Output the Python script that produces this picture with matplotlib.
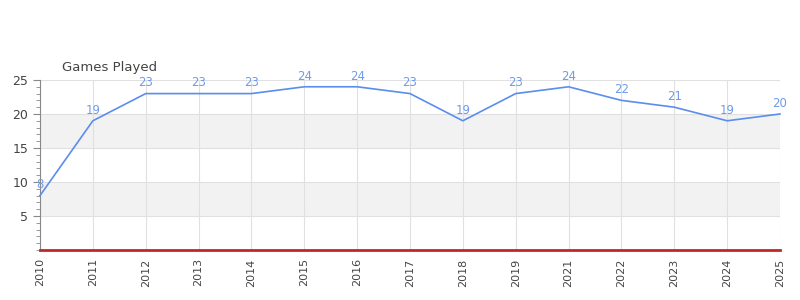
import matplotlib
matplotlib.use("Agg")
import matplotlib.pyplot as plt
from matplotlib.ticker import MultipleLocator

years = ["2010", "2011", "2012", "2013", "2014", "2015", "2016", "2017", "2018",
         "2019", "2021", "2022", "2023", "2024", "2025"]
games = [8, 19, 23, 23, 23, 24, 24, 23, 19, 23, 24, 22, 21, 19, 20]
title = "Games Played"

fig = plt.figure(figsize=(8, 3), dpi=100)
ax = fig.add_axes([0.05, 0.1667, 0.925, 0.5667])
x = list(range(len(years)))

# alternating bands
for lo in (5, 15):
    ax.axhspan(lo, lo + 5, color="#f2f2f2", zorder=0, lw=0)
for yv in (5, 10, 15, 20, 25):
    ax.axhline(yv, color="#e0e0e0", lw=0.8, zorder=1)
for xi in x:
    ax.axvline(xi, color="#e0e0e0", lw=0.8, zorder=1)

ax.plot(x, games, color="#5b8def", lw=1.2, zorder=3, clip_on=False)
for xi, v in zip(x, games):
    ax.annotate(str(v), (xi, v), xytext=(0, 3), textcoords="offset points",
                ha="center", va="bottom", fontsize=8.5, color="#6f9be8", zorder=4)

ax.set_xlim(0, len(years) - 1)
ax.set_ylim(0, 25)
ax.set_xticks(x)
ax.set_xticklabels(years, rotation=90, fontsize=8, color="#444444")
ax.yaxis.set_major_locator(MultipleLocator(5))
ax.yaxis.set_minor_locator(MultipleLocator(1))
ax.set_yticks([5, 10, 15, 20, 25])
ax.tick_params(axis="y", which="major", length=5, color="#888888", labelsize=9, labelcolor="#444444")
ax.tick_params(axis="y", which="minor", length=3, color="#888888")
ax.tick_params(axis="x", length=0, pad=6)

for s in ("top", "right"):
    ax.spines[s].set_visible(False)
ax.spines["left"].set_color("#888888")
ax.spines["bottom"].set_color("#555555")
ax.spines["bottom"].set_linewidth(2)
ax.spines["bottom"].set_zorder(4)
ax.axhline(0, color="#d62020", lw=0.6, zorder=6, clip_on=False)

fig.text(62 / 800, 1 - 67 / 300, title, fontsize=9.5, color="#444444", ha="left", va="center")

fig.savefig("out.png", dpi=100)
